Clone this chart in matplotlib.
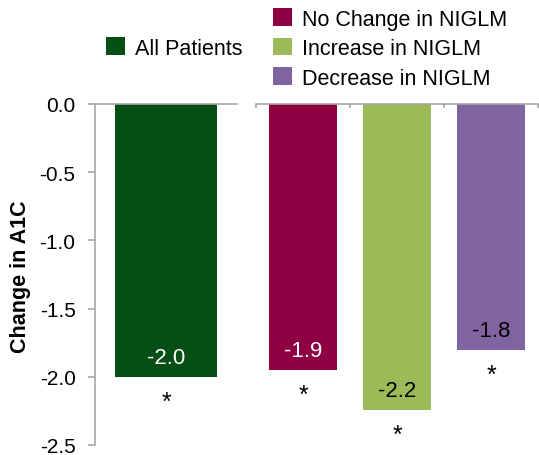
import matplotlib
matplotlib.use('Agg')
import matplotlib.pyplot as plt

plt.rcParams['font.family'] = ['Liberation Sans', 'DejaVu Sans']

# data
all_label = 'All Patients'
all_value = -2.0
all_color = '#054e14'

groups = ['No Change in NIGLM', 'Increase in NIGLM', 'Decrease in NIGLM']
group_values = [-1.95, -2.24, -1.80]
group_text = ['-1.9', '-2.2', '-1.8']
group_colors = ['#8e0042', '#9bbb59', '#8064a2']
text_colors = ['white', 'black', 'black']

yticks = [0.0, -0.5, -1.0, -1.5, -2.0, -2.5]
ylabel = 'Change in A1C'

W, H = 539, 456
fig = plt.figure(figsize=(W / 100, H / 100), dpi=100)

spine_col = '#a6a6a6'
top_px, bot_px = 105, 446
ax1 = fig.add_axes([95 / W, (H - bot_px) / H, 142 / W, (bot_px - top_px) / H])
ax2 = fig.add_axes([256 / W, (H - bot_px) / H, 282 / W, (bot_px - top_px) / H])

for ax in (ax1, ax2):
    ax.set_ylim(-2.5, 0)
    for s in ('bottom', 'right'):
        ax.spines[s].set_visible(False)
    ax.spines['top'].set_color(spine_col)
    ax.spines['top'].set_linewidth(1.2)
    ax.spines['left'].set_color(spine_col)
    ax.spines['left'].set_linewidth(1.2)

# left panel
b1 = ax1.bar([0], [all_value], width=0.72, color=all_color, label=all_label)
ax1.set_xlim(-0.5, 0.5)
ax1.set_xticks([])
ax1.set_yticks(yticks)
ax1.set_yticklabels(['%.1f' % v for v in yticks])
ax1.tick_params(axis='y', direction='out', length=5, width=1.2, color=spine_col,
                labelsize=15, pad=9)
ax1.annotate('%.1f' % all_value, (0, all_value), xytext=(0, 14), textcoords='offset pixels',
             ha='center', va='baseline', color='white', fontsize=16)
ax1.annotate('*', (0, all_value), xytext=(0, -32), textcoords='offset pixels',
             ha='center', va='baseline', color='black', fontsize=18)

# right panel
x = list(range(len(groups)))
b2 = ax2.bar(x, group_values, width=0.72, color=group_colors)
ax2.set_xlim(-0.5, len(groups) - 0.5)
ax2.spines['left'].set_visible(False)
ax2.set_yticks([])
ax2.set_xticks([i - 0.5 for i in range(len(groups) + 1)])
ax2.tick_params(axis='x', bottom=False, top=True, labelbottom=False, labeltop=False,
                direction='in', length=3, width=1.2, color=spine_col)
for i, v in enumerate(group_values):
    ax2.annotate(group_text[i], (i, v), xytext=(0, 14), textcoords='offset pixels',
                 ha='center', va='baseline', color=text_colors[i], fontsize=16)
    ax2.annotate('*', (i, v), xytext=(0, -32), textcoords='offset pixels',
                 ha='center', va='baseline', color='black', fontsize=18)

fig.text(21 / W, 1 - 277 / H, ylabel, rotation=90, ha='center', va='center',
         fontsize=15.5, fontweight='bold')

# legends
leg_kw = dict(frameon=False, fontsize=15.5, handlelength=0.88, handleheight=0.88,
              handletextpad=0.45, borderpad=0, borderaxespad=0, labelspacing=0.38,
              loc='center left')
fig.legend(handles=[b1.patches[0]], labels=[all_label],
           bbox_to_anchor=(106 / W, 1 - 49 / H), **leg_kw)
fig.legend(handles=list(b2.patches), labels=groups,
           bbox_to_anchor=(273 / W, 1 - 49.5 / H), **leg_kw)

fig.savefig('out.png', dpi=100)
